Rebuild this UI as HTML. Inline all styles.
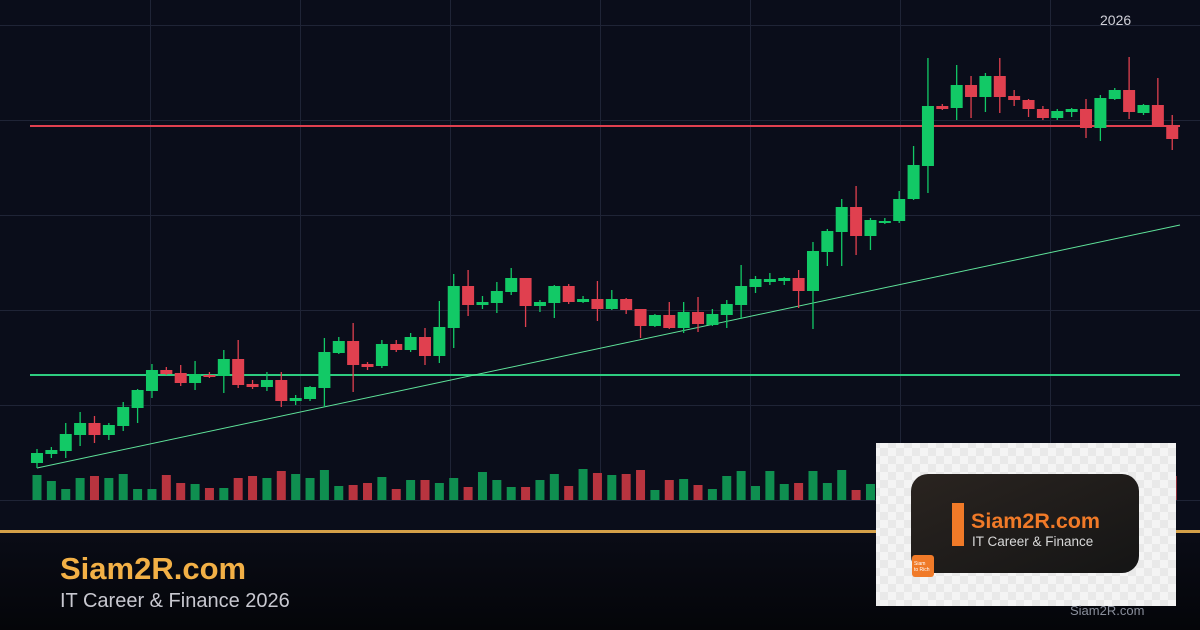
<!DOCTYPE html>
<html><head><meta charset="utf-8"><style>
html,body{margin:0;padding:0;background:#0a0d1a;}
body{width:1200px;height:630px;overflow:hidden;position:relative;font-family:"Liberation Sans",sans-serif;}
</style></head><body>
<svg id="s" width="1200" height="630" viewBox="0 0 1200 630" xmlns="http://www.w3.org/2000/svg" style="position:absolute;left:0;top:0">
<defs>
<linearGradient id="ft" x1="0" y1="0" x2="0" y2="1"><stop offset="0" stop-color="#0a0c16"/><stop offset="1" stop-color="#040509"/></linearGradient>
<pattern id="chk" width="16" height="16" patternUnits="userSpaceOnUse"><rect width="16" height="16" fill="#f4f4f4"/><rect width="8" height="8" fill="#e9e9e9"/><rect x="8" y="8" width="8" height="8" fill="#e9e9e9"/></pattern>
<linearGradient id="lg" x1="0" y1="0" x2="1" y2="1"><stop offset="0" stop-color="#2a2420"/><stop offset="1" stop-color="#151515"/></linearGradient>
</defs>
<rect width="1200" height="530" fill="#0a0d1a"/>
<g id="grid" stroke="#1f2436" stroke-width="1"></g>
<g id="vol"></g>
<line x1="30" y1="126" x2="1180" y2="126" stroke="#e0404f" stroke-width="2"/>
<line x1="30" y1="375" x2="1180" y2="375" stroke="#2ecc80" stroke-width="2"/>
<line x1="37" y1="468" x2="1180" y2="225" stroke="#5fe39a" stroke-width="1"/>
<g id="cd"></g>
<text x="1100" y="25" fill="#d0d0d8" font-size="14" font-family="Liberation Sans, sans-serif">2026</text>
<rect x="0" y="533" width="1200" height="97" fill="url(#ft)"/>
<rect x="0" y="530" width="1200" height="3" fill="#d4a048"/>
<text x="60" y="579" fill="#f2b046" font-size="31" font-weight="bold" font-family="Liberation Sans, sans-serif">Siam2R.com</text>
<text x="60" y="607" fill="#c8c8d0" font-size="20" font-family="Liberation Sans, sans-serif">IT Career &amp; Finance 2026</text>
<rect x="876" y="443" width="300" height="163" fill="url(#chk)"/>
<rect x="911" y="474" width="228" height="99" rx="17" fill="url(#lg)"/>
<rect x="952" y="503" width="12" height="43" fill="#f07a28"/>
<text x="971" y="528" fill="#f07a28" font-size="21.5" font-weight="bold" font-family="Liberation Sans, sans-serif">Siam2R.com</text>
<text x="972" y="546" fill="#d8d8d8" font-size="13.5" font-family="Liberation Sans, sans-serif">IT Career &amp; Finance</text>
<rect x="912" y="555" width="22" height="22" rx="3" fill="#f07a28"/>
<text x="914" y="565" fill="#fff" font-size="5" font-family="Liberation Sans, sans-serif">Siam</text>
<text x="914" y="571" fill="#fff" font-size="5" font-family="Liberation Sans, sans-serif">to Rich</text>
<text x="1070" y="615" fill="#8a8f9c" font-size="13" font-family="Liberation Sans, sans-serif">Siam2R.com</text>
</svg>
<script>
var NS="http://www.w3.org/2000/svg";
function el(p,t,a){var e=document.createElementNS(NS,t);for(var k in a)e.setAttribute(k,a[k]);p.appendChild(e);return e;}
var g=document.getElementById('grid');
[25,120,215,310,405,500].forEach(function(y){el(g,'line',{x1:0,y1:y+.5,x2:1200,y2:y+.5});});
[150,300,450,600,750,900,1050].forEach(function(x){el(g,'line',{x1:x+.5,y1:0,x2:x+.5,y2:500});});
var C=[
[453,463,449,468,1],[450,454,447,458,1],[434,451,423,458,1],[423,435,412,446,1],[423,435,416,443,0],
[425,435,423,440,1],[407,426,402,431,1],[390,408,389,423,1],[370,391,364,398,1],[370,374,367,375,0],
[373,383,365,386,0],[374,383,361,390,1],[375,377,372,378,0],[359,376,350,393,1],[359,385,340,388,0],
[384,387,380,389,0],[380,387,372,391,1],[380,401,372,407,0],[398,401,395,405,1],[387,399,386,401,1],
[352,388,338,407,1],[341,353,337,354,1],[341,365,323,392,0],[364,367,362,370,0],[344,366,340,368,1],
[344,350,340,352,0],[337,350,333,352,1],[337,356,328,365,0],[327,356,301,363,1],[286,328,274,348,1],
[286,305,270,316,0],[302,305,296,309,1],[291,303,282,313,1],[278,292,268,295,1],[278,306,278,327,0],
[302,306,300,312,1],[286,303,285,318,1],[286,302,284,304,0],[299,302,296,303,1],[299,309,281,321,0],
[299,309,290,310,1],[299,310,298,314,0],[309,326,309,338,0],[315,326,314,327,1],[315,328,302,329,0],
[312,328,302,333,1],[312,324,297,332,0],[314,325,309,326,1],[304,315,300,328,1],[286,305,265,319,1],
[279,287,276,293,1],[279,282,273,285,1],[278,281,277,285,1],[278,291,270,308,0],[251,291,242,329,1],
[231,252,229,266,1],[207,232,199,266,1],[207,236,186,255,0],[220,236,218,250,1],[221,223,218,224,1],
[199,221,191,223,1],[165,199,146,200,1],[106,166,58,193,1],[106,109,104,110,0],[85,108,65,120,1],
[85,97,76,118,0],[76,97,73,112,1],[76,97,58,113,0],[96,100,90,106,0],[100,109,99,117,0],
[109,118,106,120,0],[111,118,109,120,1],[109,112,108,117,1],[109,128,99,138,0],[98,128,95,141,1],
[90,99,88,100,1],[90,112,57,119,0],[105,113,104,115,1],[105,126,78,127,0],[126,139,115,150,0]];
var V=[475,481,489,478,476,478,474,489,489,475,483,484,488,488,478,476,478,471,474,478,470,486,485,483,477,489,480,480,483,478,487,472,480,487,487,480,474,486,469,473,475,474,470,490,480,479,485,489,476,471,486,471,484,483,471,483,470,490,484,478,480,472,476,482,478,474,480,484,472,476,482,478,474,480,476,484,472,478,482,476];
var cd=document.getElementById('cd'),vg=document.getElementById('vol');
C.forEach(function(c,i){
 var x=37+i*14.37,col=c[4]?'#12c966':'#e0404f';
 el(cd,'line',{x1:x,y1:c[2],x2:x,y2:c[3],stroke:col,'stroke-width':1.3});
 el(cd,'rect',{x:x-6,y:c[0],width:12,height:Math.max(2,c[1]-c[0]),fill:col});
 el(vg,'rect',{x:x-4.5,y:V[i],width:9,height:500-V[i],fill:c[4]?'#0f8f50':'#b8343f'});
});
</script>
</body></html>
